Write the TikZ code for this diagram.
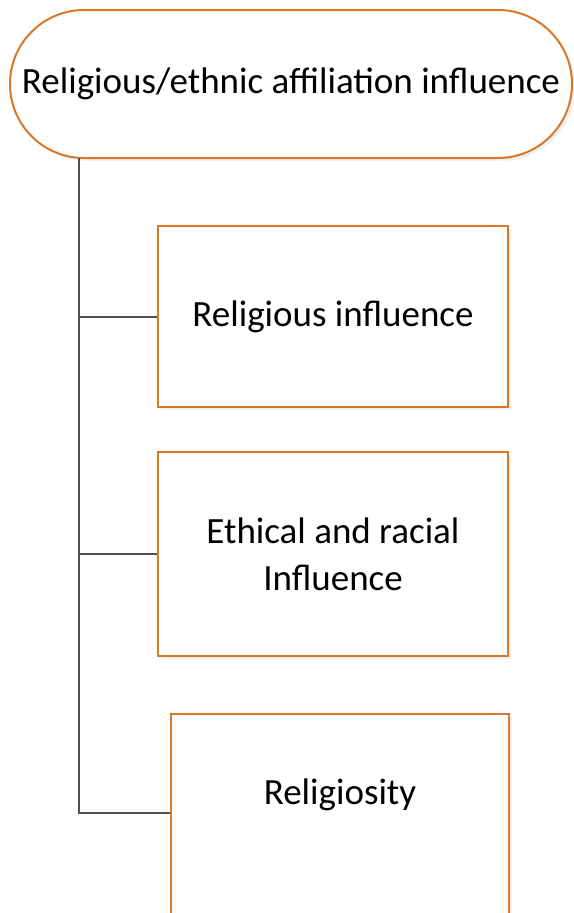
\documentclass[tikz,border=0pt]{standalone}
\usepackage{fontspec}
\setmainfont{Carlito}
\usetikzlibrary{shapes.misc, positioning, shadows}

\definecolor{boxorange}{RGB}{218,120,42}
\definecolor{linegray}{RGB}{80,80,80}

\begin{document}
\begin{tikzpicture}[
    x=1bp, y=1bp,
    every node/.style={font=\fontsize{37bp}{47bp}\selectfont, align=center},
    pill/.style={rounded rectangle, draw=boxorange, line width=2bp, fill=white,
        minimum width=562bp, minimum height=148bp, inner sep=0pt,
        drop shadow={shadow xshift=3bp, shadow yshift=-3bp, opacity=0.12}},
    item/.style={rectangle, draw=boxorange, line width=2bp, fill=white,
        inner sep=0pt, drop shadow={shadow xshift=3bp, shadow yshift=-3bp, opacity=0.12}},
    conn/.style={draw=linegray, line width=2bp}
]
\useasboundingbox (0,0) rectangle (574,-913);

\node[pill] (top) at (291,-84) {Religious/ethnic affiliation influence};

\node[item, minimum width=350bp, minimum height=181bp] (b1) at (333,-316.5) {Religious influence};
\node[item, minimum width=350bp, minimum height=204bp] (b2) at (333,-554) {Ethical and racial\\Influence};
\node[item, minimum width=338bp, minimum height=230bp, anchor=north west] (b3) at (170,-713) {};
\node (b3text) at (340,-795) {Religiosity};

% tree connector
\coordinate (trunk) at (79,-158);
\coordinate (end) at (79,-813);
\draw[conn] (trunk) -- (end) -- (end -| b3.west);
\draw[conn] (trunk |- b1.west) -- (b1.west);
\draw[conn] (trunk |- b2.west) -- (b2.west);
\end{tikzpicture}
\end{document}
